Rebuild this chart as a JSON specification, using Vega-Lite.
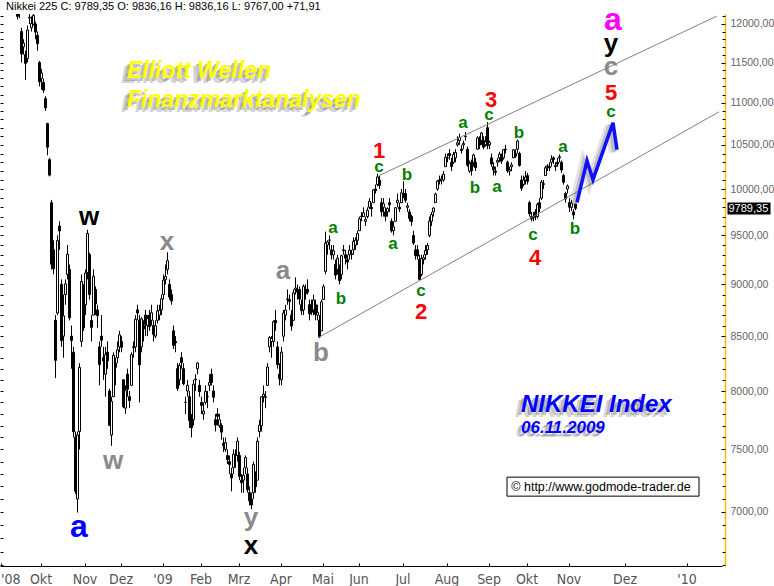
{
"$schema":"https://vega.github.io/schema/vega-lite/v6.json",
"width":722,"height":552,
"autosize":{"type":"none"},
"padding":{"left":0,"top":14,"right":52,"bottom":20},
"background":"white",
"title":{"text":"Nikkei 225 C: 9789,35 O: 9836,16 H: 9836,16 L: 9767,00 +71,91","anchor":"start","frame":"group","fontSize":11,"font":"Liberation Sans","fontWeight":"normal","color":"#000","offset":2,"dx":6,"dy":19,"baseline":"alphabetic"},
"config":{"view":{"stroke":null},"axis":{"grid":false}},
"datasets":{
"ohlc":[
{"d":"2008-09-01","o":12900,"h":12950,"l":12800,"c":12834},
{"d":"2008-09-02","o":12700,"h":12750,"l":12580,"c":12609},
{"d":"2008-09-03","o":12650,"h":12720,"l":12600,"c":12689},
{"d":"2008-09-04","o":12650,"h":12700,"l":12530,"c":12557},
{"d":"2008-09-05","o":12300,"h":12350,"l":12180,"c":12212},
{"d":"2008-09-08","o":12500,"h":12650,"l":12480,"c":12624},
{"d":"2008-09-09","o":12600,"h":12620,"l":12380,"c":12400},
{"d":"2008-09-10","o":12300,"h":12400,"l":12250,"c":12346},
{"d":"2008-09-11","o":12250,"h":12300,"l":12060,"c":12102},
{"d":"2008-09-12","o":12150,"h":12260,"l":12080,"c":12214},
{"d":"2008-09-16","o":11900,"h":11950,"l":11500,"c":11609},
{"d":"2008-09-17","o":11700,"h":11800,"l":11600,"c":11749},
{"d":"2008-09-18","o":11600,"h":11650,"l":11280,"c":11489},
{"d":"2008-09-19","o":11550,"h":11980,"l":11500,"c":11920},
{"d":"2008-09-22","o":12080,"h":12130,"l":12000,"c":12090},
{"d":"2008-09-24","o":11950,"h":12100,"l":11900,"c":12006},
{"d":"2008-09-25","o":12000,"h":12150,"l":11980,"c":12115},
{"d":"2008-09-26","o":12000,"h":12030,"l":11800,"c":11893},
{"d":"2008-09-29","o":11850,"h":11900,"l":11650,"c":11743},
{"d":"2008-09-30","o":11500,"h":11520,"l":11200,"c":11259},
{"d":"2008-10-01","o":11300,"h":11420,"l":11160,"c":11368},
{"d":"2008-10-02","o":11250,"h":11300,"l":11120,"c":11154},
{"d":"2008-10-03","o":11050,"h":11080,"l":10900,"c":10938},
{"d":"2008-10-06","o":10750,"h":10760,"l":10380,"c":10473},
{"d":"2008-10-07","o":10330,"h":10350,"l":10140,"c":10155},
{"d":"2008-10-08","o":9850,"h":9880,"l":9150,"c":9203},
{"d":"2008-10-09","o":9350,"h":9450,"l":9100,"c":9157},
{"d":"2008-10-10","o":8650,"h":8700,"l":8115,"c":8276},
{"d":"2008-10-14","o":8720,"h":9500,"l":8700,"c":9447},
{"d":"2008-10-15","o":9600,"h":9650,"l":9350,"c":9547},
{"d":"2008-10-16","o":9000,"h":9050,"l":8400,"c":8458},
{"d":"2008-10-17","o":8500,"h":8900,"l":8300,"c":8693},
{"d":"2008-10-20","o":8900,"h":9050,"l":8800,"c":9005},
{"d":"2008-10-21","o":9100,"h":9400,"l":9050,"c":9306},
{"d":"2008-10-22","o":9150,"h":9200,"l":8650,"c":8674},
{"d":"2008-10-23","o":8500,"h":8600,"l":8200,"c":8460},
{"d":"2008-10-24","o":8350,"h":8400,"l":7600,"c":7649},
{"d":"2008-10-27","o":7600,"h":7650,"l":7140,"c":7162},
{"d":"2008-10-28","o":7100,"h":7650,"l":6995,"c":7621},
{"d":"2008-10-29","o":7650,"h":8250,"l":7500,"c":8211},
{"d":"2008-10-30","o":8450,"h":9100,"l":8400,"c":9029},
{"d":"2008-10-31","o":8800,"h":9000,"l":8550,"c":8577},
{"d":"2008-11-04","o":8800,"h":9150,"l":8700,"c":9114},
{"d":"2008-11-05","o":9120,"h":9560,"l":9050,"c":9521},
{"d":"2008-11-06","o":9300,"h":9320,"l":8850,"c":8899},
{"d":"2008-11-07","o":8650,"h":8700,"l":8450,"c":8583},
{"d":"2008-11-10","o":8700,"h":9150,"l":8700,"c":9081},
{"d":"2008-11-11","o":8950,"h":8980,"l":8700,"c":8809},
{"d":"2008-11-12","o":8750,"h":8800,"l":8580,"c":8695},
{"d":"2008-11-13","o":8400,"h":8450,"l":8050,"c":8238},
{"d":"2008-11-14","o":8500,"h":8700,"l":8400,"c":8462},
{"d":"2008-11-17","o":8300,"h":8400,"l":8100,"c":8272},
{"d":"2008-11-18","o":8150,"h":8400,"l":7950,"c":8328},
{"d":"2008-11-19","o":8350,"h":8450,"l":8200,"c":8273},
{"d":"2008-11-20","o":8000,"h":8020,"l":7700,"c":7703},
{"d":"2008-11-21","o":7620,"h":7950,"l":7530,"c":7910},
{"d":"2008-11-25","o":7950,"h":8350,"l":7950,"c":8323},
{"d":"2008-11-26","o":8250,"h":8300,"l":8050,"c":8213},
{"d":"2008-11-27","o":8300,"h":8450,"l":8250,"c":8373},
{"d":"2008-11-28","o":8400,"h":8550,"l":8350,"c":8512},
{"d":"2008-12-01","o":8450,"h":8500,"l":8350,"c":8397},
{"d":"2008-12-02","o":8100,"h":8100,"l":7850,"c":7863},
{"d":"2008-12-03","o":7850,"h":8050,"l":7800,"c":8004},
{"d":"2008-12-04","o":8150,"h":8200,"l":7950,"c":8016},
{"d":"2008-12-05","o":7950,"h":8000,"l":7850,"c":7917},
{"d":"2008-12-08","o":8050,"h":8350,"l":8050,"c":8329},
{"d":"2008-12-09","o":8400,"h":8450,"l":8300,"c":8395},
{"d":"2008-12-10","o":8400,"h":8700,"l":8350,"c":8660},
{"d":"2008-12-11","o":8750,"h":8800,"l":8650,"c":8720},
{"d":"2008-12-12","o":8650,"h":8700,"l":7900,"c":8235},
{"d":"2008-12-15","o":8400,"h":8680,"l":8350,"c":8664},
{"d":"2008-12-16","o":8600,"h":8650,"l":8450,"c":8568},
{"d":"2008-12-17","o":8700,"h":8750,"l":8500,"c":8612},
{"d":"2008-12-18","o":8600,"h":8700,"l":8500,"c":8667},
{"d":"2008-12-19","o":8700,"h":8750,"l":8550,"c":8588},
{"d":"2008-12-22","o":8650,"h":8800,"l":8600,"c":8723},
{"d":"2008-12-24","o":8600,"h":8650,"l":8450,"c":8517},
{"d":"2008-12-25","o":8500,"h":8650,"l":8480,"c":8599},
{"d":"2008-12-26","o":8650,"h":8800,"l":8620,"c":8740},
{"d":"2008-12-29","o":8700,"h":8800,"l":8650,"c":8747},
{"d":"2008-12-30","o":8750,"h":8900,"l":8700,"c":8859},
{"d":"2009-01-05","o":8900,"h":9100,"l":8850,"c":9043},
{"d":"2009-01-06","o":9050,"h":9200,"l":9000,"c":9080},
{"d":"2009-01-07","o":9150,"h":9325,"l":9100,"c":9239},
{"d":"2009-01-08","o":9000,"h":9050,"l":8850,"c":8876},
{"d":"2009-01-09","o":8900,"h":8950,"l":8800,"c":8836},
{"d":"2009-01-13","o":8550,"h":8600,"l":8380,"c":8413},
{"d":"2009-01-14","o":8450,"h":8500,"l":8350,"c":8438},
{"d":"2009-01-15","o":8200,"h":8250,"l":8000,"c":8023},
{"d":"2009-01-16","o":8100,"h":8250,"l":8050,"c":8230},
{"d":"2009-01-19","o":8300,"h":8350,"l":8200,"c":8256},
{"d":"2009-01-20","o":8200,"h":8250,"l":8050,"c":8065},
{"d":"2009-01-21","o":7900,"h":7950,"l":7800,"c":7901},
{"d":"2009-01-22","o":8000,"h":8100,"l":7950,"c":8051},
{"d":"2009-01-23","o":7950,"h":8000,"l":7680,"c":7745},
{"d":"2009-01-26","o":7750,"h":7800,"l":7600,"c":7682},
{"d":"2009-01-27","o":7750,"h":8100,"l":7700,"c":8061},
{"d":"2009-01-28","o":8100,"h":8150,"l":8000,"c":8106},
{"d":"2009-01-29","o":8200,"h":8260,"l":8150,"c":8251},
{"d":"2009-01-30","o":8050,"h":8100,"l":7950,"c":7994},
{"d":"2009-02-02","o":7900,"h":7950,"l":7800,"c":7873},
{"d":"2009-02-03","o":7800,"h":7900,"l":7750,"c":7825},
{"d":"2009-02-04","o":7900,"h":8050,"l":7880,"c":7998},
{"d":"2009-02-05","o":7950,"h":8000,"l":7850,"c":7950},
{"d":"2009-02-06","o":8050,"h":8150,"l":8000,"c":8076},
{"d":"2009-02-09","o":8150,"h":8200,"l":8050,"c":8076},
{"d":"2009-02-10","o":8000,"h":8050,"l":7900,"c":7945},
{"d":"2009-02-12","o":7750,"h":7800,"l":7650,"c":7705},
{"d":"2009-02-13","o":7800,"h":7850,"l":7700,"c":7779},
{"d":"2009-02-16","o":7700,"h":7800,"l":7680,"c":7750},
{"d":"2009-02-17","o":7700,"h":7720,"l":7580,"c":7645},
{"d":"2009-02-18","o":7550,"h":7600,"l":7480,"c":7534},
{"d":"2009-02-19","o":7500,"h":7600,"l":7480,"c":7557},
{"d":"2009-02-20","o":7450,"h":7500,"l":7380,"c":7416},
{"d":"2009-02-23","o":7400,"h":7450,"l":7300,"c":7376},
{"d":"2009-02-24","o":7300,"h":7350,"l":7160,"c":7268},
{"d":"2009-02-25","o":7350,"h":7500,"l":7300,"c":7461},
{"d":"2009-02-26","o":7450,"h":7500,"l":7350,"c":7457},
{"d":"2009-02-27","o":7450,"h":7600,"l":7400,"c":7568},
{"d":"2009-03-02","o":7450,"h":7480,"l":7250,"c":7280},
{"d":"2009-03-03","o":7250,"h":7300,"l":7150,"c":7229},
{"d":"2009-03-04","o":7250,"h":7350,"l":7150,"c":7290},
{"d":"2009-03-05","o":7350,"h":7450,"l":7300,"c":7433},
{"d":"2009-03-06","o":7300,"h":7350,"l":7150,"c":7173},
{"d":"2009-03-09","o":7150,"h":7200,"l":7050,"c":7086},
{"d":"2009-03-10","o":7100,"h":7150,"l":7021,"c":7054},
{"d":"2009-03-11","o":7150,"h":7400,"l":7100,"c":7376},
{"d":"2009-03-12","o":7300,"h":7320,"l":7150,"c":7198},
{"d":"2009-03-13","o":7250,"h":7600,"l":7250,"c":7569},
{"d":"2009-03-16","o":7650,"h":7750,"l":7600,"c":7704},
{"d":"2009-03-17","o":7700,"h":7950,"l":7650,"c":7949},
{"d":"2009-03-18","o":7950,"h":8050,"l":7900,"c":7972},
{"d":"2009-03-19","o":7950,"h":8000,"l":7850,"c":7945},
{"d":"2009-03-23","o":8050,"h":8250,"l":8050,"c":8215},
{"d":"2009-03-24","o":8400,"h":8500,"l":8350,"c":8488},
{"d":"2009-03-25","o":8450,"h":8500,"l":8300,"c":8479},
{"d":"2009-03-26","o":8450,"h":8650,"l":8400,"c":8636},
{"d":"2009-03-27","o":8650,"h":8750,"l":8550,"c":8626},
{"d":"2009-03-30","o":8400,"h":8450,"l":8200,"c":8236},
{"d":"2009-03-31","o":8150,"h":8250,"l":8050,"c":8109},
{"d":"2009-04-01","o":8100,"h":8400,"l":8050,"c":8351},
{"d":"2009-04-02","o":8500,"h":8750,"l":8450,"c":8719},
{"d":"2009-04-03","o":8700,"h":8800,"l":8650,"c":8749},
{"d":"2009-04-06","o":8850,"h":8950,"l":8800,"c":8857},
{"d":"2009-04-07","o":8850,"h":8900,"l":8750,"c":8832},
{"d":"2009-04-08","o":8700,"h":8750,"l":8550,"c":8595},
{"d":"2009-04-09","o":8650,"h":8950,"l":8650,"c":8916},
{"d":"2009-04-10","o":8950,"h":9070,"l":8900,"c":8964},
{"d":"2009-04-13","o":8950,"h":9000,"l":8850,"c":8924},
{"d":"2009-04-14","o":8950,"h":8980,"l":8800,"c":8856},
{"d":"2009-04-15","o":8800,"h":8850,"l":8700,"c":8742},
{"d":"2009-04-16","o":8750,"h":9000,"l":8700,"c":8981},
{"d":"2009-04-17","o":8950,"h":9000,"l":8850,"c":8907},
{"d":"2009-04-20","o":8950,"h":9050,"l":8900,"c":8924},
{"d":"2009-04-21","o":8800,"h":8850,"l":8650,"c":8711},
{"d":"2009-04-22","o":8800,"h":8850,"l":8700,"c":8727},
{"d":"2009-04-23","o":8750,"h":8900,"l":8700,"c":8847},
{"d":"2009-04-24","o":8800,"h":8850,"l":8650,"c":8707},
{"d":"2009-04-27","o":8700,"h":8800,"l":8650,"c":8726},
{"d":"2009-04-28","o":8650,"h":8700,"l":8480,"c":8493},
{"d":"2009-04-30","o":8550,"h":8850,"l":8550,"c":8828},
{"d":"2009-05-01","o":8850,"h":9000,"l":8850,"c":8977},
{"d":"2009-05-07","o":9130,"h":9540,"l":9100,"c":9420},
{"d":"2009-05-08","o":9400,"h":9450,"l":9300,"c":9432},
{"d":"2009-05-11","o":9450,"h":9500,"l":9350,"c":9451},
{"d":"2009-05-12","o":9350,"h":9400,"l":9250,"c":9298},
{"d":"2009-05-13","o":9300,"h":9400,"l":9250,"c":9340},
{"d":"2009-05-14","o":9200,"h":9250,"l":9050,"c":9093},
{"d":"2009-05-15","o":9150,"h":9300,"l":9100,"c":9265},
{"d":"2009-05-18","o":9150,"h":9200,"l":9000,"c":9038},
{"d":"2009-05-19","o":9100,"h":9300,"l":9050,"c":9290},
{"d":"2009-05-20","o":9350,"h":9400,"l":9300,"c":9344},
{"d":"2009-05-21","o":9300,"h":9350,"l":9200,"c":9264},
{"d":"2009-05-22","o":9250,"h":9300,"l":9150,"c":9225},
{"d":"2009-05-25","o":9300,"h":9400,"l":9250,"c":9347},
{"d":"2009-05-26","o":9300,"h":9350,"l":9250,"c":9310},
{"d":"2009-05-27","o":9350,"h":9480,"l":9300,"c":9438},
{"d":"2009-05-28","o":9400,"h":9480,"l":9350,"c":9451},
{"d":"2009-05-29","o":9450,"h":9550,"l":9400,"c":9522},
{"d":"2009-06-01","o":9550,"h":9700,"l":9550,"c":9677},
{"d":"2009-06-02","o":9700,"h":9750,"l":9650,"c":9704},
{"d":"2009-06-03","o":9700,"h":9800,"l":9700,"c":9741},
{"d":"2009-06-04","o":9650,"h":9700,"l":9600,"c":9668},
{"d":"2009-06-05","o":9700,"h":9800,"l":9680,"c":9768},
{"d":"2009-06-08","o":9800,"h":9900,"l":9780,"c":9865},
{"d":"2009-06-09","o":9800,"h":9850,"l":9700,"c":9786},
{"d":"2009-06-10","o":9850,"h":10000,"l":9850,"c":9991},
{"d":"2009-06-11","o":10000,"h":10050,"l":9950,"c":9981},
{"d":"2009-06-12","o":10050,"h":10170,"l":10030,"c":10135},
{"d":"2009-06-15","o":10100,"h":10150,"l":10000,"c":10039},
{"d":"2009-06-16","o":9850,"h":9900,"l":9700,"c":9752},
{"d":"2009-06-17","o":9800,"h":9900,"l":9700,"c":9840},
{"d":"2009-06-18","o":9750,"h":9800,"l":9650,"c":9703},
{"d":"2009-06-19","o":9750,"h":9800,"l":9700,"c":9786},
{"d":"2009-06-22","o":9850,"h":9900,"l":9750,"c":9826},
{"d":"2009-06-23","o":9650,"h":9680,"l":9530,"c":9549},
{"d":"2009-06-24","o":9550,"h":9650,"l":9500,"c":9590},
{"d":"2009-06-25","o":9650,"h":9800,"l":9650,"c":9796},
{"d":"2009-06-26","o":9850,"h":9950,"l":9800,"c":9877},
{"d":"2009-06-29","o":9800,"h":9850,"l":9750,"c":9783},
{"d":"2009-06-30","o":9850,"h":10000,"l":9850,"c":9958},
{"d":"2009-07-01","o":9950,"h":10086,"l":9900,"c":9939},
{"d":"2009-07-02","o":9950,"h":10000,"l":9850,"c":9876},
{"d":"2009-07-03","o":9800,"h":9850,"l":9750,"c":9816},
{"d":"2009-07-06","o":9750,"h":9780,"l":9650,"c":9680},
{"d":"2009-07-07","o":9700,"h":9720,"l":9600,"c":9647},
{"d":"2009-07-08","o":9500,"h":9550,"l":9400,"c":9420},
{"d":"2009-07-09","o":9350,"h":9400,"l":9250,"c":9291},
{"d":"2009-07-10","o":9350,"h":9400,"l":9250,"c":9287},
{"d":"2009-07-13","o":9250,"h":9300,"l":9050,"c":9050},
{"d":"2009-07-14","o":9100,"h":9300,"l":9080,"c":9261},
{"d":"2009-07-15","o":9250,"h":9300,"l":9200,"c":9269},
{"d":"2009-07-16","o":9300,"h":9400,"l":9250,"c":9344},
{"d":"2009-07-17","o":9350,"h":9420,"l":9300,"c":9395},
{"d":"2009-07-21","o":9500,"h":9700,"l":9480,"c":9652},
{"d":"2009-07-22","o":9650,"h":9750,"l":9600,"c":9723},
{"d":"2009-07-23","o":9750,"h":9800,"l":9700,"c":9792},
{"d":"2009-07-24","o":9850,"h":9960,"l":9850,"c":9944},
{"d":"2009-07-27","o":10000,"h":10100,"l":9980,"c":10088},
{"d":"2009-07-28","o":10100,"h":10150,"l":10050,"c":10087},
{"d":"2009-07-29","o":10100,"h":10150,"l":10050,"c":10113},
{"d":"2009-07-30","o":10100,"h":10200,"l":10080,"c":10165},
{"d":"2009-07-31","o":10250,"h":10400,"l":10250,"c":10356},
{"d":"2009-08-03","o":10350,"h":10400,"l":10300,"c":10352},
{"d":"2009-08-04","o":10400,"h":10450,"l":10330,"c":10375},
{"d":"2009-08-05","o":10300,"h":10350,"l":10200,"c":10252},
{"d":"2009-08-06","o":10300,"h":10420,"l":10280,"c":10388},
{"d":"2009-08-07","o":10350,"h":10450,"l":10300,"c":10412},
{"d":"2009-08-10","o":10500,"h":10600,"l":10480,"c":10524},
{"d":"2009-08-11","o":10550,"h":10630,"l":10500,"c":10585},
{"d":"2009-08-12","o":10450,"h":10500,"l":10400,"c":10435},
{"d":"2009-08-13","o":10500,"h":10550,"l":10450,"c":10517},
{"d":"2009-08-14","o":10600,"h":10650,"l":10550,"c":10597},
{"d":"2009-08-17","o":10450,"h":10480,"l":10250,"c":10268},
{"d":"2009-08-18","o":10200,"h":10320,"l":10180,"c":10284},
{"d":"2009-08-19","o":10300,"h":10330,"l":10150,"c":10204},
{"d":"2009-08-20","o":10300,"h":10400,"l":10250,"c":10383},
{"d":"2009-08-21","o":10300,"h":10350,"l":10200,"c":10238},
{"d":"2009-08-24","o":10450,"h":10600,"l":10450,"c":10581},
{"d":"2009-08-25","o":10550,"h":10600,"l":10450,"c":10497},
{"d":"2009-08-26","o":10550,"h":10650,"l":10500,"c":10639},
{"d":"2009-08-27","o":10550,"h":10600,"l":10450,"c":10473},
{"d":"2009-08-28","o":10500,"h":10600,"l":10480,"c":10534},
{"d":"2009-08-31","o":10700,"h":10767,"l":10450,"c":10492},
{"d":"2009-09-01","o":10500,"h":10550,"l":10450,"c":10530},
{"d":"2009-09-02","o":10350,"h":10400,"l":10250,"c":10280},
{"d":"2009-09-03","o":10250,"h":10300,"l":10150,"c":10213},
{"d":"2009-09-04","o":10200,"h":10250,"l":10150,"c":10187},
{"d":"2009-09-07","o":10300,"h":10350,"l":10250,"c":10320},
{"d":"2009-09-08","o":10350,"h":10420,"l":10300,"c":10393},
{"d":"2009-09-09","o":10350,"h":10400,"l":10280,"c":10312},
{"d":"2009-09-10","o":10350,"h":10450,"l":10330,"c":10444},
{"d":"2009-09-11","o":10450,"h":10500,"l":10400,"c":10445},
{"d":"2009-09-14","o":10300,"h":10320,"l":10180,"c":10202},
{"d":"2009-09-15","o":10200,"h":10250,"l":10150,"c":10217},
{"d":"2009-09-16","o":10250,"h":10300,"l":10200,"c":10270},
{"d":"2009-09-17","o":10350,"h":10450,"l":10350,"c":10443},
{"d":"2009-09-18","o":10400,"h":10450,"l":10350,"c":10370},
{"d":"2009-09-24","o":10450,"h":10560,"l":10400,"c":10544},
{"d":"2009-09-25","o":10400,"h":10420,"l":10250,"c":10265},
{"d":"2009-09-28","o":10100,"h":10150,"l":9980,"c":10009},
{"d":"2009-09-29","o":10050,"h":10150,"l":10030,"c":10100},
{"d":"2009-09-30","o":10100,"h":10200,"l":10050,"c":10133},
{"d":"2009-10-01","o":10150,"h":10180,"l":10050,"c":10085},
{"d":"2009-10-02","o":9850,"h":9870,"l":9700,"c":9731},
{"d":"2009-10-05","o":9700,"h":9750,"l":9650,"c":9674},
{"d":"2009-10-06","o":9700,"h":9750,"l":9650,"c":9691},
{"d":"2009-10-07","o":9750,"h":9780,"l":9660,"c":9700},
{"d":"2009-10-08","o":9700,"h":9850,"l":9680,"c":9832},
{"d":"2009-10-09","o":9850,"h":9900,"l":9750,"c":9790},
{"d":"2009-10-13","o":9900,"h":10100,"l":9880,"c":10076},
{"d":"2009-10-14","o":10050,"h":10100,"l":10000,"c":10060},
{"d":"2009-10-15","o":10150,"h":10260,"l":10150,"c":10238},
{"d":"2009-10-16","o":10250,"h":10280,"l":10200,"c":10257},
{"d":"2009-10-19","o":10250,"h":10300,"l":10200,"c":10236},
{"d":"2009-10-20","o":10300,"h":10380,"l":10250,"c":10336},
{"d":"2009-10-21","o":10350,"h":10370,"l":10280,"c":10333},
{"d":"2009-10-22","o":10250,"h":10300,"l":10200,"c":10267},
{"d":"2009-10-23","o":10300,"h":10350,"l":10250,"c":10282},
{"d":"2009-10-26","o":10350,"h":10390,"l":10300,"c":10362},
{"d":"2009-10-27","o":10300,"h":10320,"l":10180,"c":10212},
{"d":"2009-10-28","o":10150,"h":10170,"l":10050,"c":10075},
{"d":"2009-10-29","o":9950,"h":9970,"l":9850,"c":9891},
{"d":"2009-10-30","o":10000,"h":10050,"l":9950,"c":10034},
{"d":"2009-11-02","o":9850,"h":9900,"l":9750,"c":9802},
{"d":"2009-11-04","o":9800,"h":9880,"l":9760,"c":9844},
{"d":"2009-11-05","o":9750,"h":9780,"l":9670,"c":9717},
{"d":"2009-11-06","o":9836,"h":9836,"l":9767,"c":9789}
],
"chan":[
{"g":"upper","d":"2009-06-15","p":10149},{"g":"upper","d":"2010-01-16","p":12106},
{"g":"lower","d":"2009-04-28","p":8489},{"g":"lower","d":"2010-01-17","p":10890}
],
"proj":[
{"d":"2009-11-07","p":9852},{"d":"2009-11-12","p":10318},{"d":"2009-11-15","p":10104},{"d":"2009-11-25","p":10759},{"d":"2009-11-27","p":10444}
],
"labels":[
{"d":"2008-11-06","p":9614,"t":"w","lvl":"Primary"},
{"d":"2009-01-07","p":9353,"t":"x","lvl":"Intermediate"},
{"d":"2008-10-29","p":6809,"t":"a","lvl":"Cycle"},
{"d":"2008-11-25","p":7339,"t":"w","lvl":"Intermediate"},
{"d":"2009-03-10","p":6892,"t":"y","lvl":"Intermediate"},
{"d":"2009-03-10","p":6683,"t":"x","lvl":"Primary"},
{"d":"2009-04-02","p":9049,"t":"a","lvl":"Intermediate"},
{"d":"2009-04-30","p":8267,"t":"b","lvl":"Intermediate"},
{"d":"2009-05-13","p":9530,"t":"a","lvl":"Minute"},
{"d":"2009-05-19","p":8803,"t":"b","lvl":"Minute"},
{"d":"2009-06-15","p":10193,"t":"c","lvl":"Minute"},
{"d":"2009-06-15","p":10353,"t":"1","lvl":"Minor"},
{"d":"2009-06-24","p":9363,"t":"a","lvl":"Minute"},
{"d":"2009-07-03","p":10104,"t":"b","lvl":"Minute"},
{"d":"2009-07-14","p":8881,"t":"c","lvl":"Minute"},
{"d":"2009-07-14","p":8659,"t":"2","lvl":"Minor"},
{"d":"2009-08-13","p":10700,"t":"a","lvl":"Minute"},
{"d":"2009-08-21","p":9960,"t":"b","lvl":"Minute"},
{"d":"2009-09-01","p":10795,"t":"c","lvl":"Minute"},
{"d":"2009-09-02","p":10950,"t":"3","lvl":"Minor"},
{"d":"2009-09-07","p":9971,"t":"a","lvl":"Minute"},
{"d":"2009-09-25","p":10583,"t":"b","lvl":"Minute"},
{"d":"2009-10-06","p":9457,"t":"c","lvl":"Minute"},
{"d":"2009-10-07","p":9199,"t":"4","lvl":"Minor"},
{"d":"2009-10-28","p":10421,"t":"a","lvl":"Minute"},
{"d":"2009-11-06","p":9520,"t":"b","lvl":"Minute"},
{"d":"2009-11-24","p":10830,"t":"c","lvl":"Minute"},
{"d":"2009-11-24","p":11035,"t":"5","lvl":"Minor"},
{"d":"2009-11-24","p":11344,"t":"c","lvl":"Intermediate"},
{"d":"2009-11-24","p":11635,"t":"y","lvl":"Primary"},
{"d":"2009-11-25","p":11921,"t":"a","lvl":"Supercycle"}
],
"notes":[
{"d":"2008-12-04","p":11307,"t":"Elliott Wellen","grp":"banner"},
{"d":"2008-12-04","p":10950,"t":"Finanzmarktanalysen","grp":"banner"},
{"d":"2009-09-28","p":7814,"t":"NIKKEI Index","grp":"index"},
{"d":"2009-09-28","p":7636,"t":"06.11.2009","grp":"date"}
],
"credit":[
{"d":"2009-09-14","d2":"2010-01-07","p":7274,"p2":7123,"dm":"2009-11-19","pm":7163,"t":"© http://www.godmode-trader.de"}
]
},
"resolve":{"axis":{"y":"independent"}},
"layer":[
{"data":{"name":"ohlc"},
 "mark":{"type":"rule","color":"#000","strokeWidth":1,"clip":true,"xOffset":0.5},
 "encoding":{
  "x":{"field":"d","type":"ordinal","title":null,
   "scale":{"type":"band","paddingInner":0,"paddingOuter":0,
    "domain":{"unionWith":["2009-11-07","2009-11-08","2009-11-09","2009-11-10","2009-11-11","2009-11-12","2009-11-13","2009-11-14","2009-11-15","2009-11-16","2009-11-17","2009-11-18","2009-11-19","2009-11-20","2009-11-21","2009-11-22","2009-11-23","2009-11-24","2009-11-25","2009-11-26","2009-11-27","2009-11-28","2009-11-29","2009-11-30","2009-12-01","2009-12-02","2009-12-03","2009-12-04","2009-12-05","2009-12-06","2009-12-07","2009-12-08","2009-12-09","2009-12-10","2009-12-11","2009-12-12","2009-12-13","2009-12-14","2009-12-15","2009-12-16","2009-12-17","2009-12-18","2009-12-19","2009-12-20","2009-12-21","2009-12-22","2009-12-23","2009-12-24","2009-12-25","2009-12-26","2009-12-27","2009-12-28","2009-12-29","2009-12-30","2009-12-31","2010-01-01","2010-01-02","2010-01-03","2010-01-04","2010-01-05","2010-01-06","2010-01-07","2010-01-08","2010-01-09","2010-01-10","2010-01-11","2010-01-12","2010-01-13","2010-01-14","2010-01-15","2010-01-16","2010-01-17","2010-01-18"]}},
   "axis":{"orient":"bottom","values":["2008-09-01","2008-10-01","2008-11-04","2008-12-01","2009-01-05","2009-02-02","2009-03-02","2009-04-01","2009-05-01","2009-06-01","2009-07-01","2009-08-03","2009-09-01","2009-10-01","2009-11-02","2009-12-01","2010-01-01"],
    "labelExpr":"datum.value == '2008-09-01' || substring(datum.value,5,7) == '01' ? \"'\" + substring(datum.value,2,4) : ['Jan','Feb','Mrz','Apr','Mai','Jun','Jul','Aug','Sep','Okt','Nov','Dez'][toNumber(substring(datum.value,5,7)) - 1]",
    "domainColor":"#000","domainWidth":1,"tickColor":"#000","tickSize":-3,"labelPadding":9,"labelAngle":0,
    "labelFont":"Liberation Sans Narrow, DejaVu Sans Condensed, sans-serif","labelFontSize":14,"labelColor":"#555",
    "labelFlush":10,"labelOverlap":false,"labelBound":false,"labelBaseline":"top","title":null}},
  "y":{"field":"l","type":"quantitative","title":null,
   "scale":{"type":"log","domain":[6594,12133],"nice":false},
   "axis":{"orient":"right","offset":3,"values":[7000,7500,8000,8500,9000,9500,10000,10500,11000,11500,12000],
    "labelExpr":"replace(format(datum.value,'.2f'),'.',',')","tickSize":-4,"tickColor":"#000",
    "domainColor":"#f0c000","domainWidth":1.5,"labelPadding":9,"labelFont":"Liberation Sans","labelFontSize":10.5,"labelColor":"#666","title":null}},
  "y2":{"field":"h"}
 }},
{"data":{"name":"ohlc"},
 "mark":{"type":"bar","stroke":"#000","strokeWidth":1,"width":2,"clip":true,"xOffset":0.5},
 "encoding":{
  "x":{"field":"d","type":"ordinal","title":null},
  "y":{"field":"o","type":"quantitative","title":null,
   "axis":{"orient":"right","offset":3,"labels":false,"domain":false,"tickSize":-3,"tickColor":"#000","title":null,
    "values":[6600,6700,6800,6900,7000,7100,7200,7300,7400,7500,7600,7700,7800,7900,8000,8100,8200,8300,8400,8500,8600,8700,8800,8900,9000,9100,9200,9300,9400,9500,9600,9700,9800,9900,10000,10100,10200,10300,10400,10500,10600,10700,10800,10900,11000,11100,11200,11300,11400,11500,11600,11700,11800,11900,12000,12100]}},
  "y2":{"field":"c"},
  "fill":{"condition":{"test":"datum.c >= datum.o","value":"#fff"},"value":"#000"}
 }},
{"data":{"name":"chan"},
 "mark":{"type":"line","color":"#808080","strokeWidth":1,"clip":true},
 "encoding":{
  "x":{"field":"d","type":"ordinal","title":null},
  "y":{"field":"p","type":"quantitative","title":null,
   "axis":{"orient":"left","labels":false,"domain":false,"tickSize":-3,"tickColor":"#000","title":null,
    "values":[6600,6700,6800,6900,7000,7100,7200,7300,7400,7500,7600,7700,7800,7900,8000,8100,8200,8300,8400,8500,8600,8700,8800,8900,9000,9100,9200,9300,9400,9500,9600,9700,9800,9900,10000,10100,10200,10300,10400,10500,10600,10700,10800,10900,11000,11100,11200,11300,11400,11500,11600,11700,11800,11900,12000,12100]}},
  "detail":{"field":"g"}
 }},
{"data":{"name":"proj"},
 "mark":{"type":"line","color":"#606060","strokeWidth":8,"opacity":0.18,"xOffset":-4,"yOffset":3},
 "encoding":{
  "x":{"field":"d","type":"ordinal","title":null},
  "y":{"field":"p","type":"quantitative","title":null,
   "axis":{"orient":"right","offset":5,"values":[9789.35],"tickSize":43,"tickWidth":12,"tickColor":"#000",
    "labelExpr":"replace(format(datum.value,'.2f'),'.',',')","labelColor":"#fff","labelPadding":-42,"labelAlign":"left",
    "labelFont":"Liberation Sans","labelFontSize":11,"domain":false,"title":null}}
 }},
{"data":{"name":"proj"},
 "mark":{"type":"line","color":"#505050","strokeWidth":4,"opacity":0.25,"xOffset":-3,"yOffset":2},
 "encoding":{"x":{"field":"d","type":"ordinal","title":null},"y":{"field":"p","type":"quantitative","axis":null}}},
{"data":{"name":"proj"},
 "mark":{"type":"line","color":"#1010ff","strokeWidth":3.5},
 "encoding":{"x":{"field":"d","type":"ordinal","title":null},"y":{"field":"p","type":"quantitative","axis":null}}},
{"data":{"name":"notes"},"transform":[{"filter":"datum.grp == 'banner'"}],
 "mark":{"type":"text","font":"Liberation Sans","fontWeight":"bold","fontStyle":"italic","fontSize":23,"align":"left","baseline":"alphabetic","color":"#404040","opacity":0.22,"dx":-6,"dy":5},
 "encoding":{"x":{"field":"d","type":"ordinal","title":null},"y":{"field":"p","type":"quantitative","axis":null},"text":{"field":"t"}}},
{"data":{"name":"notes"},"transform":[{"filter":"datum.grp == 'banner'"}],
 "mark":{"type":"text","font":"Liberation Sans","fontWeight":"bold","fontStyle":"italic","fontSize":23,"align":"left","baseline":"alphabetic","color":"#404040","opacity":0.3,"dx":-3,"dy":3},
 "encoding":{"x":{"field":"d","type":"ordinal","title":null},"y":{"field":"p","type":"quantitative","axis":null},"text":{"field":"t"}}},
{"data":{"name":"notes"},"transform":[{"filter":"datum.grp == 'banner'"}],
 "mark":{"type":"text","font":"Liberation Sans","fontWeight":"bold","fontStyle":"italic","fontSize":23,"align":"left","baseline":"alphabetic","color":"#ffff00"},
 "encoding":{"x":{"field":"d","type":"ordinal","title":null},"y":{"field":"p","type":"quantitative","axis":null},"text":{"field":"t"}}},
{"data":{"name":"notes"},"transform":[{"filter":"datum.grp == 'index'"}],
 "mark":{"type":"text","font":"Liberation Sans","fontWeight":"bold","fontStyle":"italic","fontSize":24,"align":"left","baseline":"alphabetic","color":"#404040","opacity":0.22,"dx":-6,"dy":5},
 "encoding":{"x":{"field":"d","type":"ordinal","title":null},"y":{"field":"p","type":"quantitative","axis":null},"text":{"field":"t"}}},
{"data":{"name":"notes"},"transform":[{"filter":"datum.grp == 'index'"}],
 "mark":{"type":"text","font":"Liberation Sans","fontWeight":"bold","fontStyle":"italic","fontSize":24,"align":"left","baseline":"alphabetic","color":"#404040","opacity":0.3,"dx":-3,"dy":3},
 "encoding":{"x":{"field":"d","type":"ordinal","title":null},"y":{"field":"p","type":"quantitative","axis":null},"text":{"field":"t"}}},
{"data":{"name":"notes"},"transform":[{"filter":"datum.grp == 'index'"}],
 "mark":{"type":"text","font":"Liberation Sans","fontWeight":"bold","fontStyle":"italic","fontSize":24,"align":"left","baseline":"alphabetic","color":"#0000ff"},
 "encoding":{"x":{"field":"d","type":"ordinal","title":null},"y":{"field":"p","type":"quantitative","axis":null},"text":{"field":"t"}}},
{"data":{"name":"notes"},"transform":[{"filter":"datum.grp == 'date'"}],
 "mark":{"type":"text","font":"Liberation Sans","fontWeight":"bold","fontStyle":"italic","fontSize":17,"align":"left","baseline":"alphabetic","color":"#404040","opacity":0.22,"dx":-5,"dy":4},
 "encoding":{"x":{"field":"d","type":"ordinal","title":null},"y":{"field":"p","type":"quantitative","axis":null},"text":{"field":"t"}}},
{"data":{"name":"notes"},"transform":[{"filter":"datum.grp == 'date'"}],
 "mark":{"type":"text","font":"Liberation Sans","fontWeight":"bold","fontStyle":"italic","fontSize":17,"align":"left","baseline":"alphabetic","color":"#404040","opacity":0.3,"dx":-3,"dy":3},
 "encoding":{"x":{"field":"d","type":"ordinal","title":null},"y":{"field":"p","type":"quantitative","axis":null},"text":{"field":"t"}}},
{"data":{"name":"notes"},"transform":[{"filter":"datum.grp == 'date'"}],
 "mark":{"type":"text","font":"Liberation Sans","fontWeight":"bold","fontStyle":"italic","fontSize":17,"align":"left","baseline":"alphabetic","color":"#0000ff"},
 "encoding":{"x":{"field":"d","type":"ordinal","title":null},"y":{"field":"p","type":"quantitative","axis":null},"text":{"field":"t"}}},
{"data":{"name":"labels"},"transform":[{"filter":"datum.lvl == 'Supercycle' || datum.lvl == 'Cycle'"}],
 "mark":{"type":"text","font":"Liberation Sans","fontWeight":"bold","fontSize":32,"align":"center","baseline":"alphabetic"},
 "encoding":{"x":{"field":"d","type":"ordinal","title":null},"y":{"field":"p","type":"quantitative","axis":null},"text":{"field":"t"},
  "color":{"field":"lvl","type":"nominal","legend":null,"scale":{"domain":["Supercycle","Cycle","Primary","Intermediate","Minor","Minute"],"range":["#ff00ff","#0000ff","#000000","#8a8a8a","#ff0000","#008000"]}}}},
{"data":{"name":"labels"},"transform":[{"filter":"datum.lvl == 'Primary' || datum.lvl == 'Intermediate'"}],
 "mark":{"type":"text","font":"Liberation Sans","fontWeight":"bold","fontSize":26,"align":"center","baseline":"alphabetic"},
 "encoding":{"x":{"field":"d","type":"ordinal","title":null},"y":{"field":"p","type":"quantitative","axis":null},"text":{"field":"t"},
  "color":{"field":"lvl","type":"nominal","legend":null}}},
{"data":{"name":"labels"},"transform":[{"filter":"datum.lvl == 'Minor'"}],
 "mark":{"type":"text","font":"Liberation Sans","fontWeight":"bold","fontSize":22,"align":"center","baseline":"alphabetic"},
 "encoding":{"x":{"field":"d","type":"ordinal","title":null},"y":{"field":"p","type":"quantitative","axis":null},"text":{"field":"t"},
  "color":{"field":"lvl","type":"nominal","legend":null}}},
{"data":{"name":"labels"},"transform":[{"filter":"datum.lvl == 'Minute'"}],
 "mark":{"type":"text","font":"Liberation Sans","fontWeight":"bold","fontSize":17,"align":"center","baseline":"alphabetic"},
 "encoding":{"x":{"field":"d","type":"ordinal","title":null},"y":{"field":"p","type":"quantitative","axis":null},"text":{"field":"t"},
  "color":{"field":"lvl","type":"nominal","legend":null}}},
{"data":{"name":"credit"},
 "mark":{"type":"rect","fill":"#fff","stroke":"#000","strokeWidth":1},
 "encoding":{"x":{"field":"d","type":"ordinal","title":null},"x2":{"field":"d2"},"y":{"field":"p","type":"quantitative","axis":null},"y2":{"field":"p2"}}},
{"data":{"name":"credit"},
 "mark":{"type":"text","font":"Liberation Sans","fontSize":12.5,"align":"center","baseline":"alphabetic","color":"#000"},
 "encoding":{"x":{"field":"dm","type":"ordinal","title":null},"y":{"field":"pm","type":"quantitative","axis":null},"text":{"field":"t"}}}
]
}
